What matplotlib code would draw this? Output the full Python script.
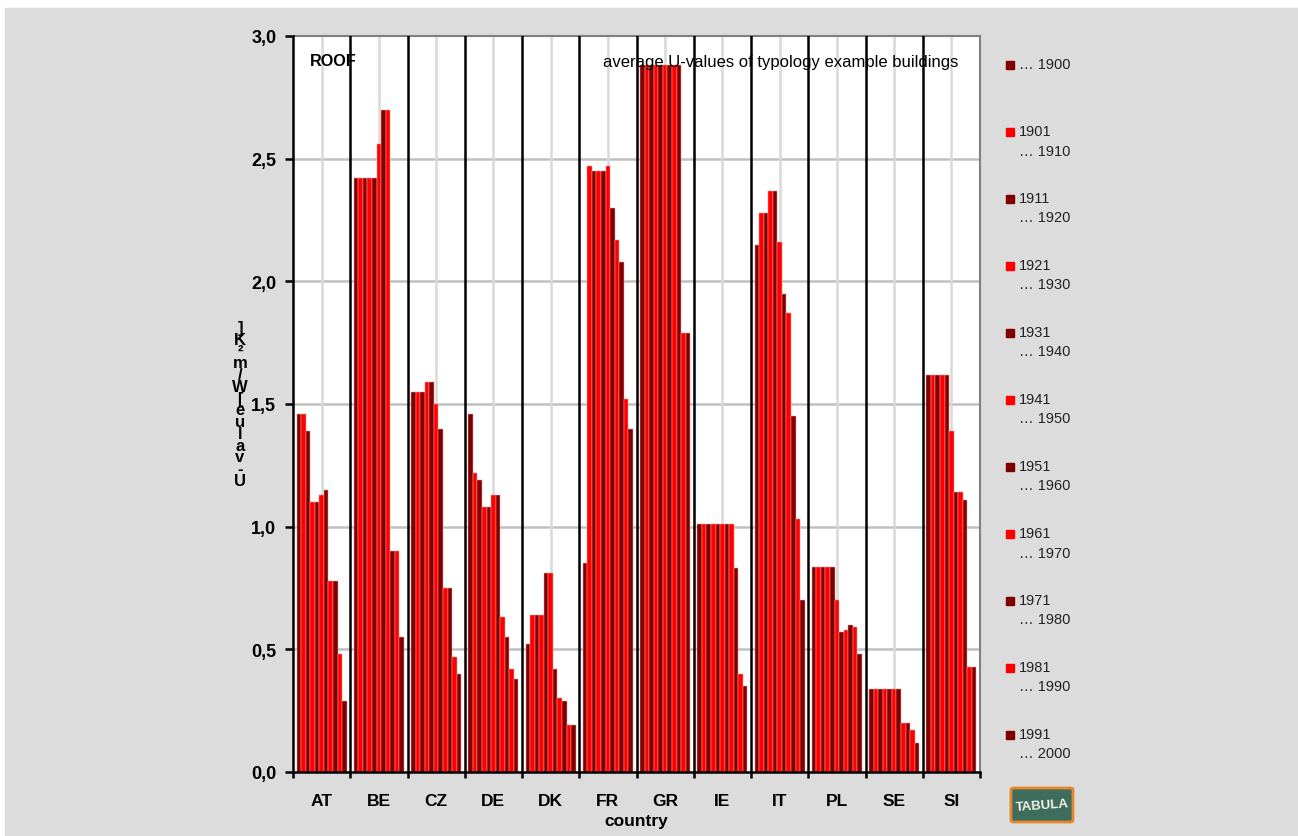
import numpy as np
import matplotlib
matplotlib.use('Agg')
import matplotlib.pyplot as plt
from matplotlib.patches import Rectangle, FancyBboxPatch

plt.rcParams['font.family'] = ['Liberation Sans', 'DejaVu Sans']

countries = ['AT', 'BE', 'CZ', 'DE', 'DK', 'FR', 'GR', 'IE', 'IT', 'PL', 'SE', 'SI']
period_start = [None, 1901, 1911, 1921, 1931, 1941, 1951, 1961, 1971, 1981, 1991]
period_end = [1900, 1910, 1920, 1930, 1940, 1950, 1960, 1970, 1980, 1990, 2000]

# U-values [W/m2K] per country, one value per construction period
u_at = [1.46, 1.46, 1.39, 1.10, 1.10, 1.13, 1.15, 0.78, 0.78, 0.48, 0.29]
u_be = [2.42, 2.42, 2.42, 2.42, 2.42, 2.56, 2.70, 2.70, 0.90, 0.90, 0.55]
u_cz = [1.55, 1.55, 1.55, 1.59, 1.59, 1.50, 1.40, 0.75, 0.75, 0.47, 0.40]
u_de = [1.46, 1.22, 1.19, 1.08, 1.08, 1.13, 1.13, 0.63, 0.55, 0.42, 0.38]
u_dk = [0.52, 0.64, 0.64, 0.64, 0.81, 0.81, 0.42, 0.30, 0.29, 0.19, 0.19]
u_fr = [0.85, 2.47, 2.45, 2.45, 2.45, 2.47, 2.30, 2.17, 2.08, 1.52, 1.40]
u_gr = [2.88, 2.88, 2.88, 2.88, 2.88, 2.88, 2.88, 2.88, 2.88, 1.79, 1.79]
u_ie = [1.01, 1.01, 1.01, 1.01, 1.01, 1.01, 1.01, 1.01, 0.83, 0.40, 0.35]
u_it = [2.15, 2.28, 2.28, 2.37, 2.37, 2.16, 1.95, 1.87, 1.45, 1.03, 0.70]
u_pl = [0.835, 0.835, 0.835, 0.835, 0.835, 0.70, 0.57, 0.58, 0.60, 0.59, 0.48]
u_se = [0.337, 0.337, 0.337, 0.337, 0.337, 0.337, 0.337, 0.20, 0.20, 0.17, 0.12]
u_si = [1.62, 1.62, 1.62, 1.62, 1.62, 1.39, 1.14, 1.14, 1.11, 0.43, 0.43]

values = np.array([u_at, u_be, u_cz, u_de, u_dk, u_fr, u_gr, u_ie, u_it, u_pl, u_se, u_si])
colors = ['#800000', '#ff0000']

W, H = 1298, 837
fig = plt.figure(figsize=(W / 100, H / 100), dpi=100, facecolor='white')
fig.patches.append(Rectangle((5 / W, 0), 1, (H - 9) / H, transform=fig.transFigure,
                             color='#dcdcdc', zorder=-10))

ax = fig.add_axes([293 / W, (H - 773) / H, 687 / W, 736 / H])
ax.set_facecolor('white')

x = np.arange(len(countries))
n = len(period_end)
w = 0.0795
for j in range(n):
    ax.bar(x + (j - (n - 1) / 2) * w, values[:, j], width=w, color=colors[j % 2],
           edgecolor='#ff9a9a', linewidth=0.35, zorder=3)

ax.set_xlim(-0.5, len(countries) - 0.5)
ax.set_ylim(0, 3)

# grid
for yv in np.arange(0.5, 3.0, 0.5):
    ax.axhline(yv, color='#c0c0c0', lw=1.8, zorder=1)
for xc in x:
    ax.axvline(xc, color='#d9d9d9', lw=1.8, zorder=1)
for xb in x[:-1] + 0.5:
    ax.axvline(xb, color='black', lw=1.8, zorder=4)

for s in ['top', 'right']:
    ax.spines[s].set_color('#808080')
    ax.spines[s].set_linewidth(1.5)
for s in ['left', 'bottom']:
    ax.spines[s].set_color('black')
    ax.spines[s].set_linewidth(1.8)
    ax.spines[s].set_zorder(5)

ax.set_yticks(np.arange(0, 3.01, 0.5))
ax.set_yticklabels([f'{v:.1f}'.replace('.', ',') for v in np.arange(0, 3.01, 0.5)],
                   fontsize=13, fontweight='bold')
ax.tick_params(axis='y', direction='out', length=6, width=1.8, pad=6)

ax.set_xticks(np.arange(-0.5, len(countries), 1.0))
ax.set_xticklabels([])
ax.tick_params(axis='x', which='major', direction='out', length=4, width=1.8)
ax.set_xticks(x, minor=True)
ax.set_xticklabels(countries, minor=True, fontsize=12.5, fontweight='bold')
ax.tick_params(axis='x', which='minor', length=0, pad=15)
ax.set_xlabel('country', fontsize=12.5, fontweight='bold', labelpad=4)

ax.text(17 / 687, (773 - 62) / 736, 'ROOF', transform=ax.transAxes, fontsize=11.7,
        fontweight='bold', va='center', ha='left', zorder=6)
ax.text((958 - 293) / 687, (773 - 62) / 736, 'average U-values of typology example buildings',
        transform=ax.transAxes, fontsize=12, va='center', ha='right', zorder=6)

# y label, glyphs stacked upright from bottom to top (as in the original export)
ylabel = 'U-value [W/m²K]'
stacked = '\n'.join(ch for ch in ylabel[::-1] if ch != ' ')
fig.text(240 / W, (H - 405) / H, stacked, fontsize=12, fontweight='bold',
         ha='center', va='center', linespacing=0.73)

# legend
for k in range(n):
    yy = 66 + 67.0 * k
    fig.patches.append(Rectangle((1006 / W, (H - yy - 4) / H), 8 / W, 8 / H,
                                 transform=fig.transFigure, color=colors[k % 2]))
    if period_start[k] is None:
        label = f'\u2026 {period_end[k]}'
    else:
        label = f'{period_start[k]}\n\u2026 {period_end[k]}'
    fig.text(1019 / W, (H - yy + 8) / H, label, fontsize=10.5, color='#222222',
             va='top', ha='left', linespacing=1.5)

# TABULA logo
fig.patches.append(FancyBboxPatch((1011 / W, (H - 823) / H), 62 / W, 34 / H,
                                  boxstyle='round,pad=0,rounding_size=0.002',
                                  transform=fig.transFigure, facecolor='#3e6d5e',
                                  edgecolor='#e8872a', linewidth=2))
fig.text(1042 / W, (H - 806) / H, 'TABULA', fontsize=9.5, fontweight='bold',
         color='#f2f2e6', ha='center', va='center', rotation=4)

fig.savefig('out.png', dpi=100, facecolor=fig.get_facecolor())
